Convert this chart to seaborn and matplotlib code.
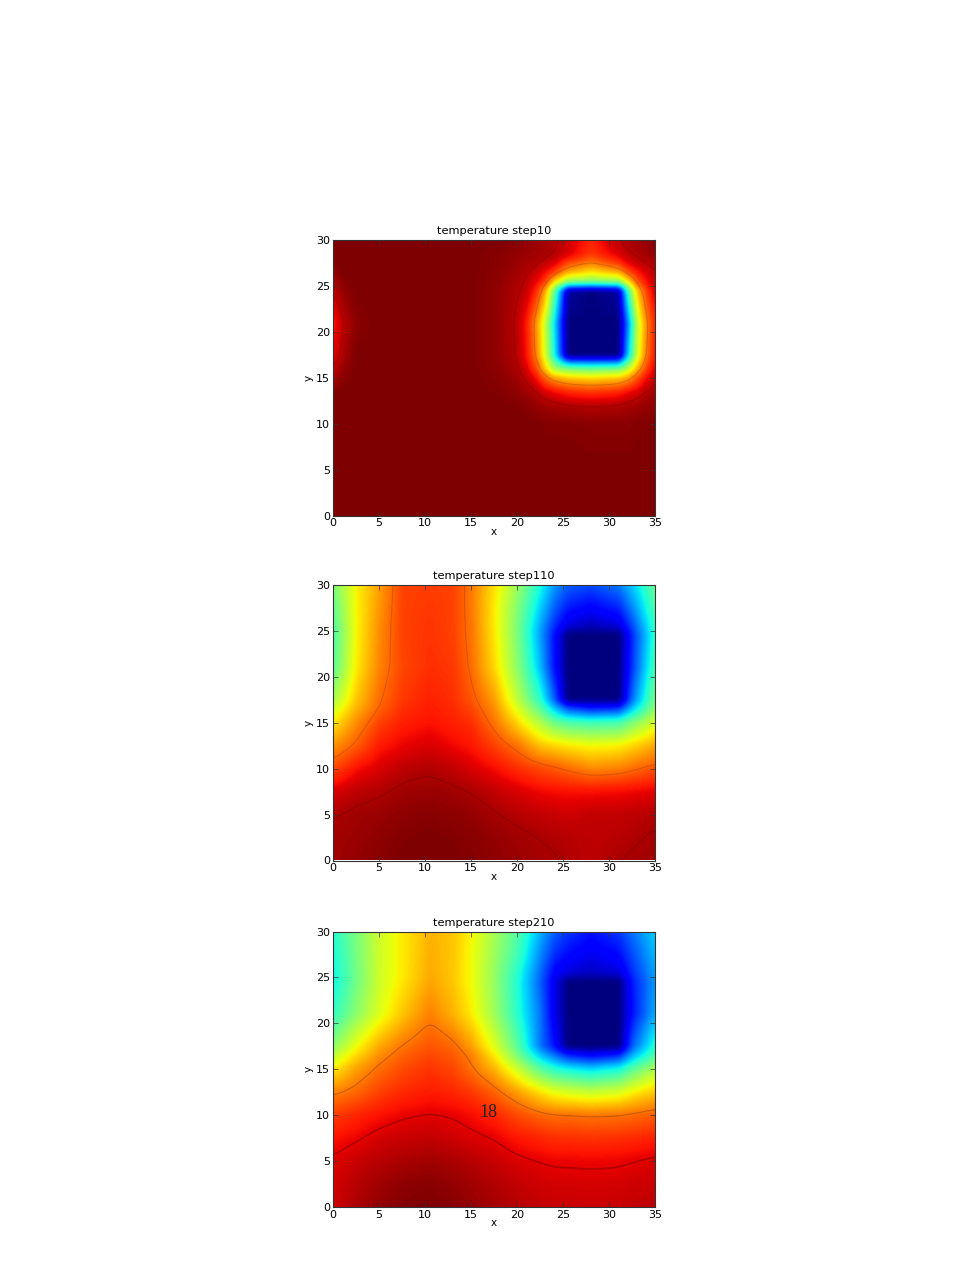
import matplotlib
matplotlib.use("Agg")
import matplotlib.pyplot as plt
import seaborn as sns
import numpy as np

# values are positions on the jet scale, 0 = navy ... 100 = dark red
# step 10 is stored row by row, bottom row first
x_step10 = [0, 1, 2.5, 5, 15, 18, 20, 21, 22, 23, 24, 25.5, 28, 31, 32, 33, 34, 35]
y_step10 = [0, 5, 10, 12, 13.5, 15, 16, 17.5, 21, 24.5, 25.5, 26.5, 27.5, 28.5, 30]
temp_step10 = [
    [100, 100, 100, 100, 100, 100, 100, 100, 100, 100, 100, 100, 100, 100, 100, 100, 100, 100],
    [100, 100, 100, 100, 100, 100, 100, 100, 100, 100, 100, 100, 100, 100, 100, 100, 100, 100],
    [100, 100, 100, 100, 100, 100, 100, 100, 100, 99.5, 99.5, 99.5, 99, 99, 99, 99.5, 99.5, 100],
    [100, 100, 100, 100, 100, 100, 99.5, 99, 98, 97, 96.5, 95.5, 95, 95.5, 96.5, 97, 98, 98],
    [99.5, 100, 100, 100, 100, 99.5, 98.5, 97, 95.5, 92, 90, 87, 85, 87, 90, 92, 95.5, 96.5],
    [95.5, 99, 100, 100, 100, 99, 97, 94.5, 90, 81, 74, 70, 68, 70, 74, 82, 90, 94.5],
    [94, 98, 100, 100, 100, 98.5, 96, 92, 84, 70, 55, 50, 48, 50, 58, 72, 84, 92],
    [91, 96, 100, 100, 100, 98, 95, 89, 78, 62, 38, 0, 0, 0, 32, 60, 78, 90],
    [88, 94.5, 99, 100, 100, 98, 94.5, 88, 76, 60, 35, 0, 0, 0, 25, 58, 76, 88],
    [94.5, 98, 100, 100, 100, 98, 95.5, 94, 87, 74, 48, 3, 0, 3, 42, 70, 84, 93],
    [96, 99, 100, 100, 100, 98.5, 96, 94.5, 91, 85, 68, 52, 50, 52, 66, 82, 89, 94.5],
    [98, 100, 100, 100, 100, 98.5, 97, 95.5, 93.5, 90, 84, 72, 66, 72, 82, 88, 92, 95],
    [100, 100, 100, 100, 100, 99, 97.5, 96.5, 96, 94, 92, 83, 77, 85, 91, 93.5, 95, 96],
    [100, 100, 100, 100, 100, 99, 98, 97.5, 97, 96.5, 95.5, 92, 85, 92, 94.5, 96, 97, 98],
    [100, 100, 100, 100, 100, 100, 99, 98, 97.5, 96.5, 95.5, 93, 87, 95, 96, 97, 98, 99],
]

# steps 110 and 210 are stored column by column, one list per x, from y=0 up
x_later = [0, 2.5, 5, 7.5, 10.5, 13, 15, 17.5, 20, 22.5, 24, 25.5, 28, 31, 32.5, 35]
y_later = [0, 2.5, 5, 7.5, 10, 12.5, 15, 16.5, 17.5, 21, 24.5, 25.5, 27.5, 30]
temp_step110 = [
    [97, 96.8, 95.8, 92, 83, 75, 66, 60, 55, 46, 44, 45, 47, 50],
    [98, 97.5, 97, 94.5, 89, 81, 76, 72, 70, 66, 65, 65, 65, 65],
    [99, 98.5, 97.5, 95.5, 92, 88, 84, 80.5, 79.5, 77, 76, 76, 75, 74],
    [100, 99.5, 98.5, 97, 94.5, 90.5, 87.5, 86, 85, 83.5, 84, 84, 84, 84],
    [100, 100, 99, 97.5, 95.5, 92, 89, 88, 87.5, 86, 85.5, 85.5, 85, 84.5],
    [100, 99.5, 98.5, 97, 94, 90, 87.5, 86.5, 86, 85, 84, 84, 84, 84],
    [99.5, 99, 98, 96, 92, 88.5, 86, 83.5, 82, 79.5, 78.5, 78.5, 78, 78],
    [98.5, 98, 96.5, 94, 89.5, 84, 78.5, 76, 74, 68, 66.5, 66, 66, 67],
    [97.5, 97, 95, 92, 86, 78.5, 68, 62, 58, 52, 50, 50, 51, 54],
    [96.5, 96, 94, 90, 83, 70, 56, 46, 40, 31, 28, 29, 33, 38],
    [96.5, 95.5, 93.5, 89.5, 81.5, 68, 48, 32, 22, 14, 14, 17, 22, 28],
    [95.5, 95, 93, 89, 79.5, 66, 44, 20, 0, 0, 0, 8, 15, 22],
    [94.5, 94.5, 94, 89, 76, 64, 42, 15, 0, 0, 0, 5, 12, 20],
    [96, 95, 94, 89.5, 77, 65, 43, 17, 0, 0, 0, 8, 16, 25],
    [96.5, 95.5, 94.5, 90, 79, 68, 50, 32, 24, 18, 17, 20, 26, 33],
    [97, 96.5, 95.3, 91, 82, 73, 61, 53, 50, 44, 41, 42, 45, 48],
]
temp_step210 = [
    [93, 92.5, 91.5, 89, 84.5, 77, 66, 58, 52, 41, 37, 37.5, 38, 40],
    [96, 95, 93.5, 90.5, 87, 80, 74, 68, 64, 52, 49, 49, 49.5, 50],
    [98, 97, 95, 92.5, 89, 84, 79.5, 76, 73, 62, 60, 60, 60, 60],
    [99.5, 98.5, 96, 93.5, 90.5, 86.5, 83, 80.5, 78.5, 70, 66.5, 66, 66, 66],
    [100, 99, 97, 94, 91.3, 88, 85.5, 83.5, 82, 77.5, 73.5, 73, 72.5, 72],
    [99, 98, 96, 93, 90.8, 87, 83.5, 81.5, 80, 72, 70, 70, 70, 70],
    [98, 97, 95, 92, 89.5, 85, 79, 77.5, 74, 66, 64, 64, 64, 65],
    [96.5, 95.5, 93.5, 91, 87, 80.5, 72, 66, 62, 54, 53, 53, 54, 55],
    [95, 94, 92, 88.5, 83, 74, 60, 50, 46, 40, 39, 40, 43, 45],
    [94, 93, 91, 87, 80, 67, 46, 32, 24, 24, 22, 23, 26, 30],
    [93.5, 92.5, 90.5, 86, 79, 63, 40, 24, 14, 10, 10, 12, 17, 22],
    [93.5, 92.5, 90.5, 86, 79, 61, 37, 16, 0, 0, 0, 8, 13, 18],
    [93.3, 92.3, 90.3, 85.5, 78.3, 59, 34, 12, 0, 0, 0, 6, 10, 14],
    [93.5, 92.5, 90.5, 86, 78.7, 61, 38, 16, 0, 0, 0, 8, 13, 18],
    [94, 93, 91, 86.5, 79.5, 65, 46, 30, 22, 14, 15, 17, 20, 24],
    [94.5, 93.5, 92, 87.5, 81, 70, 56, 45, 40, 30, 28, 29, 31, 33],
]

titles = ["temperature step10", "temperature step110", "temperature step210"]
x_ticks = [0, 5, 10, 15, 20, 25, 30, 35]
y_ticks = [0, 5, 10, 15, 20, 25, 30]
contour_levels = [[77, 94.5], [80, 96], [78, 91]]


def soften(xs, ys, temp, sigma):
    # only for drawing: put the read values on a pixel-like grid and soften them
    fine_x = np.arange(0, 35.01, 0.1)
    fine_y = np.arange(0, 30.01, 0.1)
    by_x = np.array([np.interp(fine_x, xs, row) for row in temp])
    field = np.array([np.interp(fine_y, ys, col) for col in by_x.T]).T
    half = int(4 * sigma / 0.1)
    kernel = np.exp(-0.5 * (np.arange(-half, half + 1) * 0.1 / sigma) ** 2)
    kernel = kernel / kernel.sum()
    for axis in (0, 1):
        pad = [(0, 0), (0, 0)]
        pad[axis] = (half, half)
        padded = np.pad(field, pad, mode="edge")
        field = np.apply_along_axis(lambda v: np.convolve(v, kernel, mode="valid"), axis, padded)
    return fine_x, fine_y, field


sns.set_style("ticks", {"xtick.direction": "in", "ytick.direction": "in",
                        "text.color": "black", "axes.labelcolor": "black",
                        "xtick.color": "black", "ytick.color": "black"})
# seaborn refuses the name "jet" in color_palette, so take it from matplotlib
jet = plt.get_cmap("jet")

fig = plt.figure(figsize=(9.79, 12.67), dpi=100)
axes = [fig.add_axes([333 / 979, 1 - bottom / 1267, 322 / 979, 275.5 / 1267])
        for bottom in (515.5, 860.5, 1207)]

panels = [
    (x_step10, y_step10, np.array(temp_step10)),
    (x_later, y_later, np.array(temp_step110).T),
    (x_later, y_later, np.array(temp_step210).T),
]

for i, ax in enumerate(axes):
    xs, ys, temp = panels[i]
    fx, fy, shown = soften(xs, ys, temp, 0.25)
    ax.imshow(shown, origin="lower", extent=[0, 35, 0, 30], aspect="auto",
              cmap=jet, vmin=0, vmax=100, interpolation="bilinear")
    fx, fy, lines = soften(xs, ys, temp, 0.7)
    ax.contour(fx, fy, lines, levels=contour_levels[i], colors="k",
               linewidths=[0.8, 1.3 if i == 2 else 0.8], alpha=0.14 if i < 2 else 0.22)
    ax.set_xlim(0, 35)
    ax.set_ylim(0, 30)
    ax.set_xticks(x_ticks)
    ax.set_yticks(y_ticks)
    ax.tick_params(labelsize=8, length=3.5, width=0.5, pad=2, top=True, right=True, color="#333333")
    ax.set_xlabel("x", fontsize=7.5, labelpad=-1)
    ax.set_ylabel("y", fontsize=7.5, labelpad=2)
    ax.set_title(titles[i], fontsize=8.2, pad=4)
    for spine in ax.spines.values():
        spine.set_linewidth(0.8)
        spine.set_color("#333333")

axes[2].text(16.9, 10.3, "18", fontsize=13, family="Liberation Serif",
             ha="center", va="center", color="#222222")

plt.savefig("out.png", dpi=100)
